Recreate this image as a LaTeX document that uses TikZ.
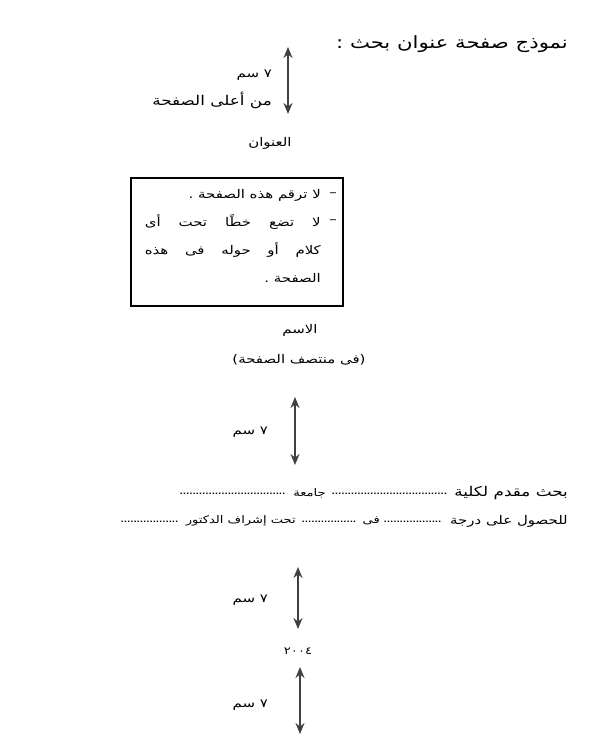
\documentclass[tikz,border=0pt]{standalone}
\usepackage{fontspec}
\usetikzlibrary{arrows.meta}
\TeXXeTstate=1
\newfontfamily\arabicfont[Script=Arabic, FakeStretch=1.25]{DejaVu Sans}
\newcommand{\artxt}[1]{\beginR #1\endR}
\newcommand{\dotrun}[1]{\leaders\hbox to 3.2bp{\hss.\hss}\hskip #1bp\kern0pt}
\tikzset{
  txt/.style={font=\arabicfont\fontsize{12}{14}\selectfont, inner sep=0pt},
  bigtxt/.style={font=\arabicfont\fontsize{13.5}{15}\selectfont, inner sep=0pt},
  smalltxt/.style={font=\arabicfont\fontsize{10.5}{12}\selectfont, inner sep=0pt},
  dotline/.style={font=\arabicfont\fontsize{11}{13}\selectfont, inner sep=0pt, anchor=east},
  dimarrow/.style={{Stealth[length=11bp,width=9bp]}-{Stealth[length=11bp,width=9bp]}, line width=1.8bp, draw=black!75},
  notebox/.style={draw, line width=1.6bp, rectangle, inner sep=0pt}
}
\begin{document}
\begin{tikzpicture}[x=1bp,y=-1bp]
\useasboundingbox (0,0) rectangle (608,752);
% title
\node[txt, anchor=east] (title) at (568,44) {\fontsize{17}{19}\selectfont\artxt{نموذج صفحة عنوان بحث :}};
% arrow 1
\coordinate (a1t) at (288,47);
\coordinate (a1b) at (288,114);
\draw[dimarrow] (a1t) -- (a1b);
\node[txt, anchor=east] (l1a) at (272,75) {\artxt{٧ سم}};
\node[bigtxt, anchor=east] (l1b) at (272,100) {\artxt{من أعلى الصفحة}};
\node[txt] (head) at (270,143) {\artxt{العنوان}};
% box
\node[notebox, minimum width=212bp, minimum height=128bp] (box) at (237,242) {};
\node[txt] (d1) at (333,195) {–};
\node[txt, anchor=east] (b1) at (321,195) {\artxt{لا ترقم هذه الصفحة .}};
\node[txt] (d2) at (333,222) {–};
\node[txt, anchor=east] (b2) at (321,222) {\hbox to 176bp{\beginR لا\hfill تضع\hfill خطًا\hfill تحت\hfill أى\endR}};
\node[txt, anchor=east] (b3) at (321,250) {\hbox to 176bp{\beginR كلام\hfill أو\hfill حوله\hfill فى\hfill هذه\endR}};
\node[txt, anchor=east] (b4) at (321,278) {\artxt{الصفحة .}};
% name
\node[txt] (name) at (300,330) {\artxt{الاسم}};
\node[txt] (mid) at (299,360) {\artxt{(فى منتصف الصفحة)}};
% arrow 2
\coordinate (a2t) at (295,397);
\coordinate (a2b) at (295,465);
\draw[dimarrow] (a2t) -- (a2b);
\node[txt, anchor=east] (l2) at (268,432) {\artxt{٧ سم}};
% line A
\node[bigtxt, anchor=east] (la1) at (568,493) {\artxt{بحث مقدم لكلية}};
\node[dotline] (la2) at (450,494) {\dotrun{118}};
\node[smalltxt, anchor=east] (la3) at (326,493) {\artxt{جامعة}};
\node[dotline] (la4) at (288,494) {\dotrun{108}};
% line B
\node[txt, anchor=east] (lb1) at (568,521) {\artxt{للحصول على درجة}};
\node[dotline] (lb2) at (444,522) {\dotrun{60}};
\node[smalltxt, anchor=east] (lb3) at (380,521) {\artxt{فى}};
\node[dotline] (lb4) at (358,522) {\dotrun{56}};
\node[smalltxt, anchor=east] (lb5) at (296,521) {\artxt{تحت إشراف الدكتور}};
\node[dotline] (lb6) at (179,522) {\dotrun{58}};
% arrow 3
\coordinate (a3t) at (298,567);
\coordinate (a3b) at (298,629);
\draw[dimarrow] (a3t) -- (a3b);
\node[txt, anchor=east] (l3) at (268,600) {\artxt{٧ سم}};
\node[smalltxt] (year) at (298,651) {٢٠٠٤};
% arrow 4
\coordinate (a4t) at (300,667);
\coordinate (a4b) at (300,734);
\draw[dimarrow] (a4t) -- (a4b);
\node[txt, anchor=east] (l4) at (268,705) {\artxt{٧ سم}};
\end{tikzpicture}
\end{document}
